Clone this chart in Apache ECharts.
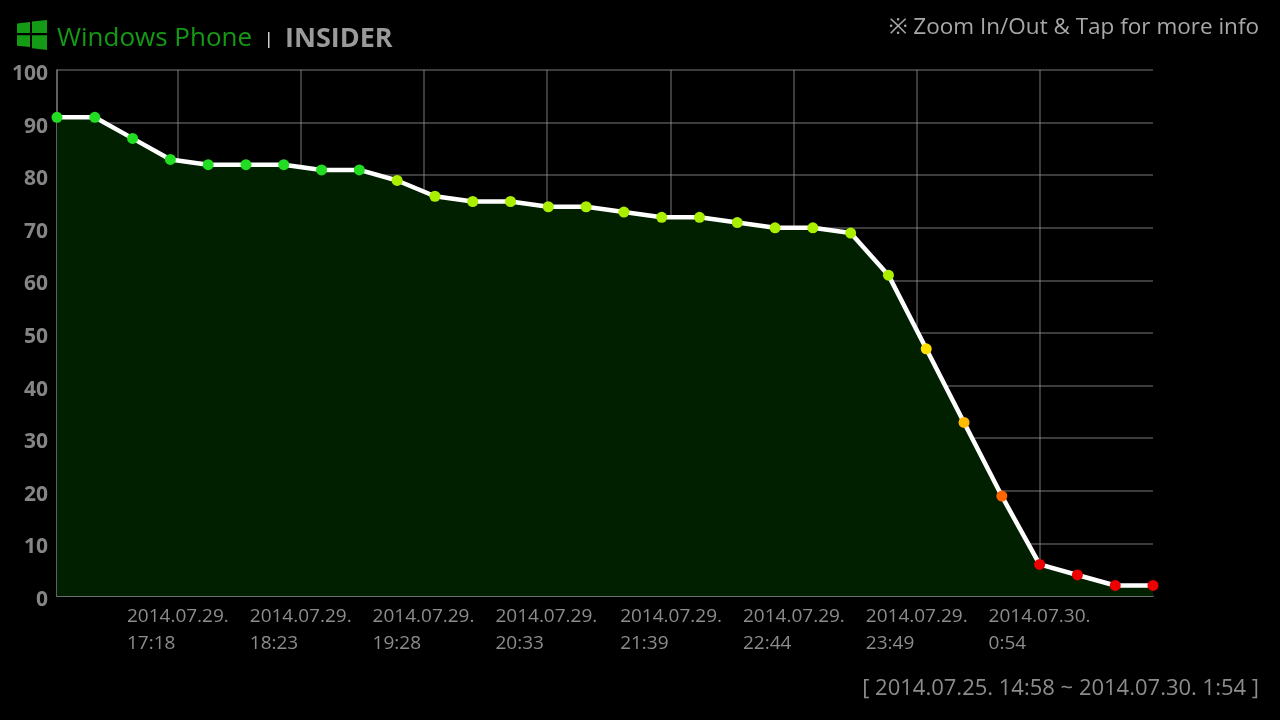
<!DOCTYPE html>
<html>
<head>
<meta charset="utf-8">
<script src="https://cdn.jsdelivr.net/npm/echarts@6/dist/echarts.min.js"></script>
<style>
html,body{margin:0;padding:0;background:#000;}
#chart{width:1280px;height:720px;}
</style>
</head>
<body>
<div id="chart"></div>
<script>
// ---- data ----
const pointTimes = ['16:14','16:34','16:54','17:14','17:34','17:54','18:14','18:34','18:54','19:14',
  '19:34','19:54','20:14','20:34','20:54','21:14','21:34','21:54','22:14','22:34',
  '22:54','23:14','23:34','23:54','0:14','0:34','0:54','1:14','1:34','1:54'];
const batteryValues = [91,91,87,83,82,82,82,81,81,79,76,75,75,74,74,73,72,72,71,70,70,69,61,47,33,19,6,4,2,2];
const tickDates = ['2014.07.29.','2014.07.29.','2014.07.29.','2014.07.29.','2014.07.29.','2014.07.29.','2014.07.29.','2014.07.30.'];
const tickTimes = ['17:18','18:23','19:28','20:33','21:39','22:44','23:49','0:54'];
const yTicks = [0,10,20,30,40,50,60,70,80,90,100];
const titleMain = 'Windows Phone';
const titleSub = 'INSIDER';
const noteText = '※ Zoom In/Out & Tap for more info';
const rangeText = '[ 2014.07.25. 14:58 ~ 2014.07.30. 1:54 ]';

function toMin(t){ const p=t.split(':'); const h=+p[0], m=+p[1]; return (h<12 ? h+24 : h)*60+m; }
const pointMin = pointTimes.map(toMin);
const tickMin = tickTimes.map(toMin);
const seriesData = pointMin.map((x,i)=>[x,batteryValues[i]]);

function levelColor(v){
  if (v >= 80) return '#22dd22';
  if (v >= 55) return '#aaee00';
  if (v >= 40) return '#ffe000';
  if (v >= 25) return '#ffbb00';
  if (v >= 10) return '#ff6600';
  return '#ee0000';
}

const chart = echarts.init(document.getElementById('chart'), null, {renderer:'canvas'});
const FONT = '"Segoe UI","Open Sans","Noto Sans",sans-serif';
const green = '#149a14';
const gridCol = 'rgba(160,160,160,0.5)';

chart.setOption({
  backgroundColor:'#000',
  animation:false,
  grid:{left:57,right:127,top:70,bottom:124,containLabel:false,outerBoundsMode:'none'},
  xAxis:{
    type:'value',
    min:pointMin[0], max:pointMin[pointMin.length-1],
    axisLine:{show:true,lineStyle:{color:'#808080',width:1.5}},
    axisTick:{show:false,customValues:tickMin},
    splitLine:{show:true,lineStyle:{color:gridCol,width:1.5}},
    axisLabel:{
      customValues:tickMin,
      margin:7,
      formatter:function(v){
        let idx=0,best=1e9;
        tickMin.forEach((t,i)=>{ if(Math.abs(t-v)<best){best=Math.abs(t-v);idx=i;} });
        return '{a|'+tickDates[idx]+'}\n{a|'+tickTimes[idx]+'}';
      },
      rich:{a:{width:102,align:'left',fontSize:19,lineHeight:27,color:'#8c8c8c',fontFamily:FONT}}
    }
  },
  yAxis:{
    type:'value', min:yTicks[0], max:yTicks[yTicks.length-1], interval:10,
    axisLine:{show:true,lineStyle:{color:'#808080',width:1.5}},
    axisTick:{show:false},
    splitLine:{show:true,lineStyle:{color:gridCol,width:1.5}},
    axisLabel:{
      margin:9,
      formatter:function(v){ return '{v|'+v+'}'; },
      rich:{v:{color:'#858585',fontSize:21,fontWeight:'bold',fontFamily:FONT,padding:[8,0,0,0]}}
    }
  },
  series:[{
    type:'line',
    data:seriesData,
    symbol:'circle',
    symbolSize:11,
    showAllSymbol:true,
    lineStyle:{color:'#ffffff',width:4.5},
    itemStyle:{color:function(p){return levelColor(p.value[1]);},borderWidth:0},
    areaStyle:{color:'#002000',opacity:1},
    z:3
  }],
  graphic:[
    {type:'polygon',shape:{points:[[17,23.5],[30,22],[30,33],[17,33]]},style:{fill:green}},
    {type:'polygon',shape:{points:[[32,21.5],[47,20],[47,33],[32,33]]},style:{fill:green}},
    {type:'polygon',shape:{points:[[17,35.3],[30,35.3],[30,47],[17,45.7]]},style:{fill:green}},
    {type:'polygon',shape:{points:[[32,35.3],[47,35.3],[47,50],[32,48.3]]},style:{fill:green}},
    {type:'text',left:57,top:26,style:{text:titleMain,fill:green,font:'26px '+FONT}},
    {type:'rect',shape:{x:268,y:32,width:1.5,height:16},style:{fill:'#cccccc'}},
    {type:'text',left:285,top:26,style:{text:titleSub,fill:'#9a9a9a',font:'bold 27px '+FONT}},
    {type:'text',right:21,top:16,style:{text:noteText,fill:'#a8a8a8',font:'22.5px '+FONT}},
    {type:'text',right:21,top:678,style:{text:rangeText,fill:'#8c8c8c',font:'22px '+FONT}}
  ]
});
</script>
</body>
</html>
